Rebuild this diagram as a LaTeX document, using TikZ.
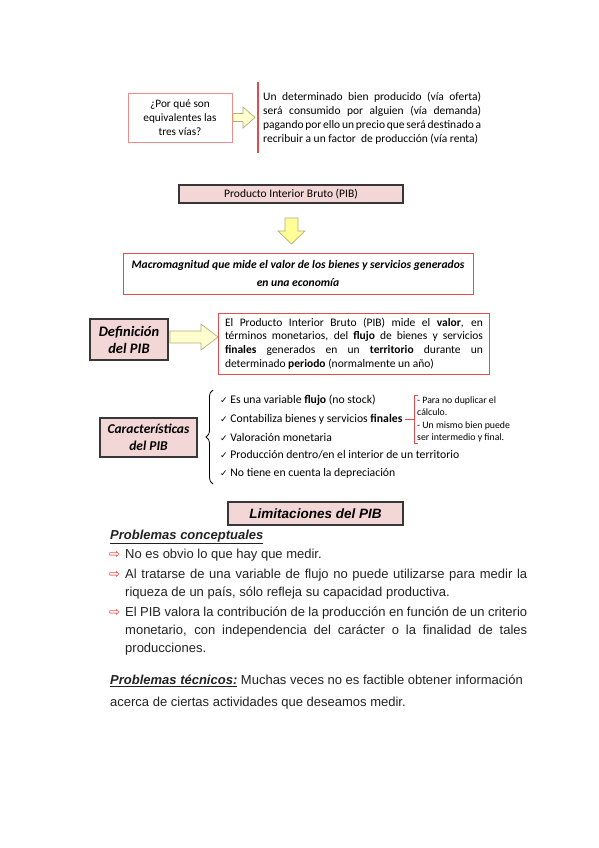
\documentclass[tikz,border=0pt]{standalone}
\usepackage{fontspec}
\setmainfont{Carlito}
\newfontfamily\arialf{Liberation Sans}
\newfontfamily\dejavu{DejaVu Sans}
\usetikzlibrary{decorations.pathreplacing}
\definecolor{pinkfill}{RGB}{243,214,214}
\definecolor{redline}{RGB}{226,76,76}
\definecolor{lightred}{RGB}{236,140,140}
\definecolor{boxedge}{RGB}{55,55,55}
\definecolor{yel}{RGB}{255,255,150}
\definecolor{paleyel}{RGB}{255,255,205}
\definecolor{yeledge}{RGB}{175,175,130}
\definecolor{bulletred}{RGB}{230,60,50}
\definecolor{bodytext}{RGB}{35,35,35}
\newcommand\sline[2]{\makebox[#1][s]{#2}}
\newcommand\chk{{\dejavu\fontsize{9}{9}\selectfont ✓}}
\begin{document}
\begin{tikzpicture}[x=1pt,y=-1pt,
  pinkbox/.style={draw=boxedge, line width=1.1pt, fill=pinkfill, inner sep=0pt, align=center},
  redbox/.style={draw=redline, line width=1pt, inner sep=0pt},
  qbox/.style={draw=lightred, line width=0.8pt, inner sep=0pt, align=center},
  txt/.style={inner sep=0pt, anchor=west, align=left},
  yarrow/.style={draw=yeledge, line width=0.7pt, fill=paleyel},
  bullet/.style={inner sep=0pt, text=bulletred, font=\dejavu\fontsize{13}{13}\selectfont}
]
\useasboundingbox[fill=white] (0,0) rectangle (599,848);

% --- top question
\node[qbox, minimum width=104pt, minimum height=49pt,
      font=\fontsize{11.3}{14}\selectfont] (q) at (180,117.5)
  {¿Por qué son\\equivalentes las\\tres vías?};
\draw[yarrow] (233,113.5) -- (243,113.5) -- (243,107) -- (255,117.5) -- (243,128) -- (243,121.5) -- (233,121.5) -- cycle;
\coordinate (rl1) at (258,82);
\coordinate (rl2) at (258,153);
\draw[redline, line width=1.2pt] (rl1) -- (rl2);
\node[txt, font=\fontsize{11.5}{14}\selectfont] (qa) at (263,118)
  {\sline{218pt}{Un determinado bien producido (vía oferta)}\\
   \sline{218pt}{será consumido por alguien (vía demanda)}\\
   \sline{218pt}{pagando por ello un precio que será destinado a}\\
   recribuir a un factor\ \ de producción (vía renta)};

% --- PIB
\node[pinkbox, minimum width=224pt, minimum height=18pt,
      font=\fontsize{11.5}{14}\selectfont] (pib) at (291,194) {Producto Interior Bruto (PIB)};
\draw[yarrow, fill=yel] (285,218) -- (298,218) -- (298,231) -- (305,231) -- (291.5,244) -- (278,231) -- (285,231) -- cycle;
\node[redbox, minimum width=350pt, minimum height=41pt, align=center,
      font=\fontsize{11.6}{18}\bfseries\itshape\selectfont] (macro) at (298,273.5)
  {Macromagnitud que mide el valor de los bienes y servicios generados\\en una economía};

% --- Definición
\node[pinkbox, minimum width=78pt, minimum height=41pt,
      font=\fontsize{14.5}{17}\bfseries\itshape\selectfont] (def) at (129,339.5)
  {Definición\\del PIB};
\draw[yarrow] (170,331) -- (201,331) -- (201,324) -- (218,337) -- (201,350) -- (201,343) -- (170,343) -- cycle;
\node[redbox, minimum width=271pt, minimum height=61pt] (defbox) at (354,343.5) {};
\node[inner sep=0pt, align=left, font=\fontsize{11.5}{13.7}\selectfont] (deftxt) at (defbox.center)
  {\sline{258pt}{El Producto Interior Bruto (PIB) mide el \textbf{valor}, en}\\
   \sline{258pt}{términos monetarios, del \textbf{flujo} de bienes y servicios}\\
   \sline{258pt}{\textbf{finales} generados en un \textbf{territorio} durante un}\\
   \makebox[258pt][l]{determinado \textbf{periodo} (normalmente un año)}};

% --- Características
\node[pinkbox, minimum width=97pt, minimum height=39pt,
      font=\fontsize{13.5}{17}\bfseries\itshape\selectfont] (car) at (148.5,437.5)
  {Características\\del PIB};
\coordinate (brb) at (213,484);
\coordinate (brt) at (213,390);
\draw[line width=0.8pt, decorate, decoration={brace, amplitude=7pt}] (brb) -- (brt);
\begin{scope}[every node/.style={txt, font=\fontsize{11.7}{14}\selectfont}]
\node (c1) at (220,400) {\chk\ Es una variable \textbf{flujo} (no stock)};
\node (c2) at (220,419) {\chk\ Contabiliza bienes y servicios \textbf{finales}};
\node (c3) at (220,437) {\chk\ Valoración monetaria};
\node (c4) at (220,455) {\chk\ Producción dentro/en el interior de un territorio};
\node (c5) at (220,473) {\chk\ No tiene en cuenta la depreciación};
\end{scope}
\coordinate (sbm) at (414,419);
\coordinate (sbt) at (414,395);
\coordinate (sbb) at (414,443);
\draw[redline, line width=0.9pt] ([xshift=2pt]c2.east) -- (sbm);
\draw[redline, line width=0.9pt] ([xshift=4pt]sbt) -- (sbt) -- (sbb) -- ([xshift=4pt]sbb);
\node[txt, font=\fontsize{9.8}{12.5}\selectfont] (note) at (417,419.5)
  {- Para no duplicar el\\cálculo.\\- Un mismo bien puede\\ser intermedio y final.};

% --- Limitaciones
\node[pinkbox, minimum width=175pt, minimum height=23pt,
      font=\arialf\fontsize{13.5}{16}\bfseries\itshape\selectfont] (lim) at (315.5,513.5) {Limitaciones del PIB};

\begin{scope}[every node/.append style={text=bodytext}]
\node[txt, font=\arialf\fontsize{13}{18}\selectfont] (pc) at (110,537)
  {\underline{\textbf{\textit{Problemas conceptuales}}}};
\node[bullet, anchor=west] (b1) at (109,554.5) {⇨};
\node[bullet, anchor=west] (b2) at (109,574.5) {⇨};
\node[bullet, anchor=west] (b3) at (109,612.5) {⇨};
\node[txt, font=\arialf\fontsize{13}{18}\selectfont] (l1) at (125,555)
  {No es obvio lo que hay que medir.};
\node[txt, font=\arialf\fontsize{13}{18}\selectfont] (l2) at (125,584)
  {\sline{402pt}{Al tratarse de una variable de flujo no puede utilizarse para medir la}\\
   riqueza de un país, sólo refleja su capacidad productiva.};
\node[txt, font=\arialf\fontsize{13}{18}\selectfont] (l3) at (125,631)
  {\sline{402pt}{El PIB valora la contribución de la producción en función de un criterio}\\
   \sline{402pt}{monetario, con independencia del carácter o la finalidad de tales}\\
   producciones.};
\node[txt, font=\arialf\fontsize{13}{18}\selectfont] (pt) at (110,681)
  {\underline{\textbf{\textit{Problemas técnicos:}}} Muchas veces no es factible obtener información};
\node[txt, font=\arialf\fontsize{13}{18}\selectfont] (pt2) at (110,703)
  {acerca de ciertas actividades que deseamos medir.};
\end{scope}
\end{tikzpicture}
\end{document}
